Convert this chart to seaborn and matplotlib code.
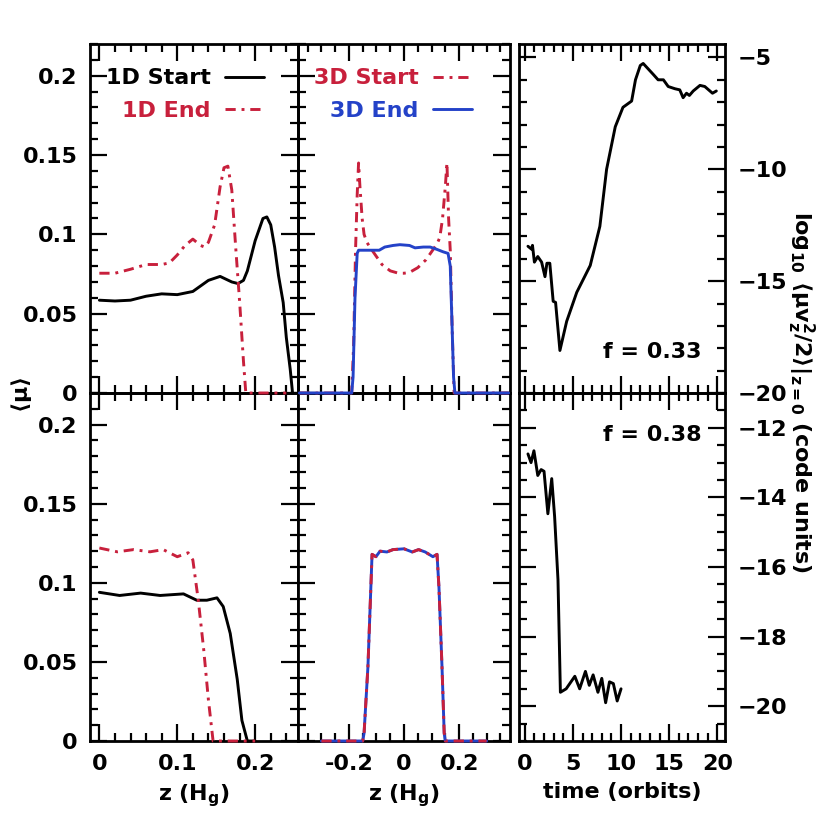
import numpy as np
import matplotlib.pyplot as plt
import matplotlib.ticker as mticker
import seaborn as sns

# ---- data ----
# top left: 1D runs, f = 0.33
z_1d_start = [0, 0.02, 0.04, 0.06, 0.08, 0.10, 0.12, 0.14, 0.155, 0.17, 0.178, 0.185,
              0.19, 0.20, 0.21, 0.215, 0.22, 0.225, 0.23, 0.236, 0.24, 0.245, 0.248]
mu_1d_start = [0.0585, 0.058, 0.0585, 0.061, 0.0625, 0.062, 0.064, 0.071, 0.0735, 0.070,
               0.069, 0.071, 0.077, 0.096, 0.110, 0.111, 0.106, 0.092, 0.074, 0.057,
               0.035, 0.015, 0.0]
z_1d_end = [0, 0.02, 0.04, 0.06, 0.08, 0.09, 0.10, 0.11, 0.12, 0.13, 0.135, 0.14, 0.148,
            0.155, 0.16, 0.165, 0.17, 0.175, 0.18, 0.185, 0.188, 0.20, 0.22, 0.24]
mu_1d_end = [0.0755, 0.0755, 0.078, 0.081, 0.081, 0.082, 0.087, 0.093, 0.097, 0.093,
             0.092, 0.095, 0.106, 0.130, 0.142, 0.143, 0.128, 0.092, 0.058, 0.02, 0.0,
             0.0, 0.0, 0.0]

# top middle: 3D runs, f = 0.33
z_3d_start = [-0.38, -0.19, -0.183, -0.176, -0.17, -0.165, -0.16, -0.152, -0.145, -0.135,
              -0.12, -0.10, -0.08, -0.05, -0.02, 0.0, 0.02, 0.05, 0.08, 0.10, 0.12, 0.13,
              0.14, 0.15, 0.156, 0.162, 0.168, 0.175, 0.182, 0.38]
mu_3d_start = [0.0, 0.0, 0.03, 0.09, 0.125, 0.145, 0.13, 0.11, 0.10, 0.095, 0.091, 0.086,
               0.081, 0.077, 0.0755, 0.0755, 0.076, 0.079, 0.084, 0.089, 0.094, 0.098,
               0.11, 0.13, 0.145, 0.11, 0.09, 0.04, 0.0, 0.0]
z_3d_end = [-0.38, -0.19, -0.185, -0.178, -0.17, -0.165, -0.12, -0.09, -0.07, -0.04,
            -0.015, 0.02, 0.04, 0.07, 0.095, 0.12, 0.142, 0.16, 0.168, 0.175, 0.18, 0.185,
            0.38]
mu_3d_end = [0.0, 0.0, 0.01, 0.06, 0.088, 0.09, 0.09, 0.09, 0.092, 0.093, 0.0935, 0.093,
             0.0915, 0.092, 0.092, 0.0905, 0.089, 0.088, 0.08, 0.04, 0.01, 0.0, 0.0]

# bottom left: 1D runs, f = 0.38
z_1d_start_b = [0, 0.026, 0.053, 0.078, 0.108, 0.125, 0.138, 0.151, 0.159, 0.168, 0.177,
                0.183, 0.19, 0.20]
mu_1d_start_b = [0.094, 0.092, 0.0935, 0.092, 0.093, 0.089, 0.089, 0.0905, 0.085, 0.068,
                 0.039, 0.013, 0.0, 0.0]
z_1d_end_b = [0, 0.023, 0.044, 0.065, 0.082, 0.10, 0.114, 0.12, 0.127, 0.134, 0.14,
              0.146, 0.17, 0.20]
mu_1d_end_b = [0.122, 0.1196, 0.121, 0.1196, 0.121, 0.1165, 0.119, 0.1145, 0.089, 0.0576,
               0.026, 0.0, 0.0, 0.0]

# bottom middle: 3D runs, f = 0.38 (start and end overlap)
z_3d_b = [-0.30, -0.15, -0.145, -0.131, -0.116, -0.102, -0.087, -0.062, -0.04, 0.0, 0.03,
          0.053, 0.077, 0.105, 0.12, 0.127, 0.138, 0.146, 0.15, 0.30]
mu_3d_start_b = [0.0, 0.0, 0.005, 0.047, 0.118, 0.1165, 0.12, 0.1195, 0.121, 0.1215,
                 0.1195, 0.121, 0.1195, 0.1165, 0.118, 0.097, 0.047, 0.005, 0.0, 0.0]
mu_3d_end_b = mu_3d_start_b

# right: log10 <mu vz^2/2>|z=0 vs time
t_a = [0.33, 0.7, 0.8, 1.0, 1.35, 1.75, 2.1, 2.3, 2.6, 2.95, 3.2, 3.65, 4.35, 5.4, 6.8,
       7.8, 8.5, 9.4, 10.2, 11.1, 11.5, 12.0, 12.3, 13.35, 13.85, 14.4, 14.9, 15.6, 16.1,
       16.45, 16.8, 17.1, 17.5, 18.2, 18.7, 19.5, 19.9]
ke_a = [-13.44, -13.57, -13.4, -14.15, -13.9, -14.15, -14.8, -14.2, -14.2, -15.9, -15.95,
        -18.1, -16.8, -15.5, -14.3, -12.55, -10.0, -8.1, -7.23, -6.95, -6.0, -5.36, -5.27,
        -5.76, -6.0, -6.0, -6.3, -6.4, -6.45, -6.8, -6.6, -6.7, -6.5, -6.25, -6.3, -6.6,
        -6.5]
t_b = [0.33, 0.65, 0.95, 1.35, 1.7, 2.0, 2.4, 2.8, 3.1, 3.45, 3.7, 4.3, 5.2, 5.7, 6.3,
       6.7, 7.1, 7.6, 8.0, 8.4, 8.8, 9.2, 9.6, 10.0]
ke_b = [-12.75, -13.0, -12.66, -13.37, -13.2, -13.25, -14.47, -13.46, -14.55, -16.37,
        -19.6, -19.5, -19.14, -19.5, -19.0, -19.4, -19.1, -19.6, -19.2, -19.9, -19.3,
        -19.35, -19.85, -19.5]

RED = '#c8203c'
BLUE = '#2442c8'
DASHDOT = (0, (3.5, 2, 1, 2))

sns.set_theme(style='white', rc={
    'axes.linewidth': 2.0,
    'xtick.major.width': 1.6, 'ytick.major.width': 1.6,
    'xtick.minor.width': 1.6, 'ytick.minor.width': 1.6,
    'xtick.major.size': 12, 'ytick.major.size': 12,
    'xtick.minor.size': 6, 'ytick.minor.size': 6,
    'axes.edgecolor': 'black',
    'text.color': 'black', 'axes.labelcolor': 'black',
    'xtick.color': 'black', 'ytick.color': 'black',
})
plt.rcParams['font.family'] = ['DejaVu Sans']
plt.rcParams['font.weight'] = 'bold'
plt.rcParams['font.size'] = 16
plt.rcParams['mathtext.fontset'] = 'dejavusans'
plt.rcParams['mathtext.default'] = 'bf'

fig = plt.figure(figsize=(8.3, 8.3), dpi=100)
W = 830.0
def add(x0, x1, y0, y1):
    return fig.add_axes([x0 / W, 1 - y1 / W, (x1 - x0) / W, (y1 - y0) / W])

ax_bl = add(90, 298, 393, 741)
ax_bm = add(298, 510, 393, 741)
ax_br = add(519, 725, 393, 741)
ax_tl = add(90, 298, 44, 393)
ax_tm = add(298, 510, 44, 393)
ax_tr = add(519, 725, 44, 393)
for ax in [ax_tl, ax_tm, ax_tr]:
    ax.set_zorder(2)
    ax.patch.set_alpha(0)

lw = 2.1
kw = dict(lw=lw, clip_on=False, zorder=4)
sns.lineplot(x=z_1d_start, y=mu_1d_start, ax=ax_tl, color='black', label='1D Start', **kw)
sns.lineplot(x=z_1d_end, y=mu_1d_end, ax=ax_tl, color=RED, linestyle=DASHDOT, label='1D End', **kw)
sns.lineplot(x=z_3d_start, y=mu_3d_start, ax=ax_tm, color=RED, linestyle=DASHDOT, label='3D Start', **kw)
sns.lineplot(x=z_3d_end, y=mu_3d_end, ax=ax_tm, color=BLUE, label='3D End', **kw)
sns.lineplot(x=z_1d_start_b, y=mu_1d_start_b, ax=ax_bl, color='black', **kw)
sns.lineplot(x=z_1d_end_b, y=mu_1d_end_b, ax=ax_bl, color=RED, linestyle=DASHDOT, **kw)
sns.lineplot(x=z_3d_b, y=mu_3d_end_b, ax=ax_bm, color=BLUE, **kw)
sns.lineplot(x=z_3d_b, y=mu_3d_start_b, ax=ax_bm, color=RED, linestyle=DASHDOT, **kw)
sns.lineplot(x=t_a, y=ke_a, ax=ax_tr, color='black', lw=lw, sort=False)
sns.lineplot(x=t_b, y=ke_b, ax=ax_br, color='black', lw=lw, sort=False)

for ax in [ax_tl, ax_tm]:
    ax.legend(loc='upper left', bbox_to_anchor=(0.0, 0.975), markerfirst=False, frameon=False,
              labelcolor='linecolor', handlelength=1.75, handletextpad=0.65,
              labelspacing=0.55, borderaxespad=0.3, fontsize=16)

for ax in [ax_tl, ax_bl]:
    ax.set_xlim(-0.012, 0.255)
    ax.xaxis.set_major_locator(mticker.FixedLocator([0, 0.1, 0.2]))
    ax.xaxis.set_minor_locator(mticker.MultipleLocator(0.02))
for ax in [ax_tm, ax_bm]:
    ax.set_xlim(-0.385, 0.385)
    ax.xaxis.set_major_locator(mticker.FixedLocator([-0.2, 0, 0.2]))
    ax.xaxis.set_minor_locator(mticker.MultipleLocator(0.05))
for ax in [ax_tl, ax_tm, ax_bl, ax_bm]:
    ax.set_ylim(0, 0.22)
    ax.yaxis.set_major_locator(mticker.FixedLocator([0, 0.05, 0.1, 0.15, 0.2]))
    ax.yaxis.set_minor_locator(mticker.MultipleLocator(0.01))
    ax.yaxis.set_major_formatter(mticker.FuncFormatter(lambda v, p: '%g' % round(v, 3)))
    ax.xaxis.set_major_formatter(mticker.FuncFormatter(lambda v, p: '%g' % round(v, 3)))

for ax in [ax_tr, ax_br]:
    ax.set_xlim(-0.6, 20.8)
    ax.xaxis.set_major_locator(mticker.MultipleLocator(5))
    ax.xaxis.set_minor_locator(mticker.MultipleLocator(1))
ax_tr.set_ylim(-20, -4.4)
ax_tr.yaxis.set_major_locator(mticker.MultipleLocator(5))
ax_tr.yaxis.set_minor_locator(mticker.MultipleLocator(1))
ax_br.set_ylim(-21, -11)
ax_br.yaxis.set_major_locator(mticker.MultipleLocator(2))
ax_br.yaxis.set_minor_locator(mticker.MultipleLocator(0.5))

for ax in [ax_tl, ax_tm, ax_tr, ax_bl, ax_bm, ax_br]:
    ax.tick_params(which='both', direction='in', top=True, bottom=True, left=True,
                   right=True, labelsize=16, pad=9)
    ax.set_xlabel('')
    ax.set_ylabel('')
    for s in ax.spines.values():
        s.set_visible(True)
        s.set_linewidth(2.0)

for ax in [ax_tl, ax_tm, ax_tr]:
    ax.tick_params(labelbottom=False)
for ax in [ax_tm, ax_bm]:
    ax.tick_params(labelleft=False)
for ax in [ax_tr, ax_br]:
    ax.tick_params(labelleft=False, labelright=True)

ax_bl.set_xlabel('z (H$_g$)', fontsize=16, fontweight='bold', labelpad=6)
ax_bm.set_xlabel('z (H$_g$)', fontsize=16, fontweight='bold', labelpad=6)
ax_br.set_xlabel('time (orbits)', fontsize=16, fontweight='bold', labelpad=6)

ax_tr.text(0.888, 0.117, 'f = 0.33', transform=ax_tr.transAxes, ha='right', va='center',
           fontsize=16, fontweight='bold')
ax_br.text(0.888, 0.879, 'f = 0.38', transform=ax_br.transAxes, ha='right', va='center',
           fontsize=16, fontweight='bold')

fig.text(22 / W, 1 - 395 / W, r'$\langle\mu\rangle$', rotation=90, ha='center',
         va='center', fontsize=16)
fig.text(801 / W, 1 - 392 / W, r'log$_{10}$ $\langle\mu v_z^2/2\rangle|_{z=0}$ (code units)',
         rotation=270, ha='center', va='center', fontsize=16, fontweight='bold')

fig.savefig('out.png', dpi=100)
